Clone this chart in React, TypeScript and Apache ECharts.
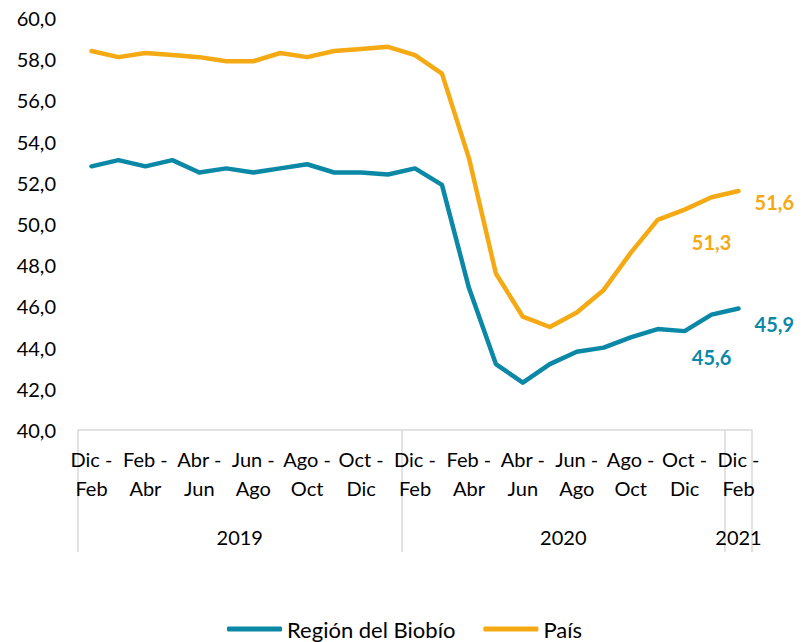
import React, { useEffect, useRef } from "react";
import * as echarts from "echarts";

const periods = [
  "Dic - Feb", "Ene - Mar", "Feb - Abr", "Mar - May", "Abr - Jun", "May - Jul",
  "Jun - Ago", "Jul - Sep", "Ago - Oct", "Sep - Nov", "Oct - Dic", "Nov - Ene",
  "Dic - Feb", "Ene - Mar", "Feb - Abr", "Mar - May", "Abr - Jun", "May - Jul",
  "Jun - Ago", "Jul - Sep", "Ago - Oct", "Sep - Nov", "Oct - Dic", "Nov - Ene",
  "Dic - Feb",
];
const years = ["2019", "2020", "2021"];
const yearStart = [0, 12, 24];
const yearEnd = [12, 24, 25];

const biobio = [
  52.8, 53.1, 52.8, 53.1, 52.5, 52.7, 52.5, 52.7, 52.9, 52.5, 52.5, 52.4,
  52.7, 51.9, 46.9, 43.2, 42.3, 43.2, 43.8, 44.0, 44.5, 44.9, 44.8, 45.6, 45.9,
];
const pais = [
  58.4, 58.1, 58.3, 58.2, 58.1, 57.9, 57.9, 58.3, 58.1, 58.4, 58.5, 58.6,
  58.2, 57.3, 53.2, 47.6, 45.5, 45.0, 45.7, 46.8, 48.6, 50.2, 50.7, 51.3, 51.6,
];

const yMin = 40;
const yMax = 60;
const yStep = 2;

const BLUE = "#0A88A6";
const ORANGE = "#F5A913";
const FONT = "Lato";

const fmt = (v: number) => v.toFixed(1).replace(".", ",");

function withLabels(values: number[], color: string, lowDist: number, rightOff: number) {
  const n = values.length;
  return values.map((v, i) => {
    if (i === n - 2) {
      return {
        value: v,
        label: {
          show: true, position: "bottom", distance: lowDist,
          color, fontWeight: "bold", fontSize: 20, fontFamily: FONT,
          formatter: (p: any) => fmt(p.value),
        },
      };
    }
    if (i === n - 1) {
      return {
        value: v,
        label: {
          show: true, position: "right", distance: 16, offset: [0, rightOff],
          color, fontWeight: "bold", fontSize: 20, fontFamily: FONT,
          formatter: (p: any) => fmt(p.value),
        },
      };
    }
    return v;
  });
}

export default function App() {
  const ref = useRef<HTMLDivElement>(null);
  useEffect(() => {
    document.body.style.margin = "0";
    const chart = echarts.init(ref.current!, undefined, { renderer: "svg" });
    const total = periods.length;
    const tickVals = Array.from(new Set([...yearStart, ...yearEnd]));
    const labelVals = yearStart.map((s, i) => (s + yearEnd[i]) / 2);
    chart.setOption({
      animation: false,
      textStyle: { fontFamily: FONT },
      grid: { left: 78, right: 57, top: 18, bottom: 212 },
      legend: {
        top: 613,
        left: "center",
        icon: "roundRect",
        itemWidth: 55,
        itemHeight: 5,
        itemGap: 28,
        textStyle: { fontSize: 22, color: "#000", fontFamily: FONT },
        data: ["Región del Biobío", "País"],
      },
      xAxis: [
        {
          type: "category",
          data: periods,
          boundaryGap: true,
          position: "bottom",
          axisLine: { show: true, lineStyle: { color: "#d9d9d9", width: 1.5 } },
          axisTick: { show: false },
          axisLabel: {
            interval: 1,
            margin: 14,
            fontSize: 20,
            lineHeight: 29,
            color: "#000",
            fontFamily: FONT,
            formatter: (v: string) => v.replace(" - ", " -\n"),
          },
          splitLine: { show: false },
        },
        {
          type: "value",
          min: 0,
          max: total,
          position: "bottom",
          axisLine: { show: false },
          axisTick: {
            show: true,
            customValues: tickVals,
            length: 122,
            lineStyle: { color: "#d9d9d9", width: 1.5 },
          },
          axisLabel: {
            customValues: labelVals,
            margin: 97,
            fontSize: 20,
            color: "#000",
            fontFamily: FONT,
            formatter: (v: number) => {
              const idx = labelVals.indexOf(v);
              return idx >= 0 ? years[idx] : "";
            },
          },
          splitLine: { show: false },
        },
      ],
      yAxis: {
        type: "value",
        min: yMin,
        max: yMax,
        interval: yStep,
        axisLine: { show: false },
        axisTick: { show: false },
        splitLine: { show: false },
        axisLabel: {
          margin: 22,
          fontSize: 20,
          color: "#000",
          fontFamily: FONT,
          formatter: (v: number) => fmt(v),
        },
      },
      series: [
        {
          name: "Región del Biobío",
          type: "line",
          xAxisIndex: 0,
          data: withLabels(biobio, BLUE, 32, 16),
          symbol: "circle",
          symbolSize: 0.1,
          showSymbol: true,
          color: BLUE,
          lineStyle: { color: BLUE, width: 4.5, cap: "round", join: "round" },
          itemStyle: { color: BLUE },
        },
        {
          name: "País",
          type: "line",
          xAxisIndex: 0,
          data: withLabels(pais, ORANGE, 35, 11),
          symbol: "circle",
          symbolSize: 0.1,
          showSymbol: true,
          color: ORANGE,
          lineStyle: { color: ORANGE, width: 4.5, cap: "round", join: "round" },
          itemStyle: { color: ORANGE },
        },
      ],
    });
    return () => chart.dispose();
  }, []);
  return <div ref={ref} style={{ width: 809, height: 642 }} />;
}
